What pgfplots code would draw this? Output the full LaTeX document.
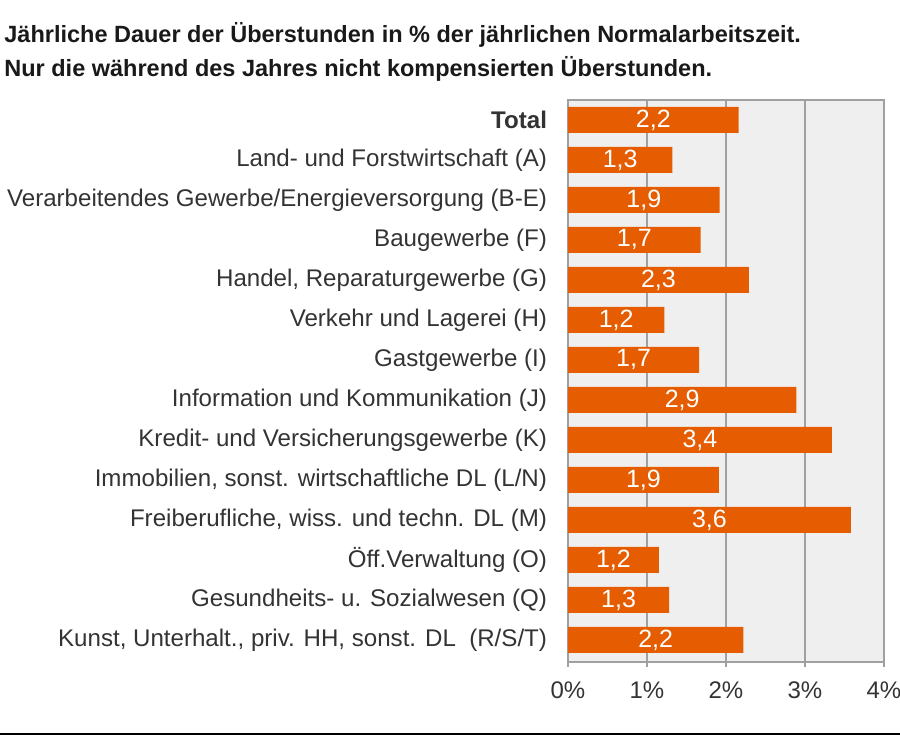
\documentclass[border=0pt]{standalone}
\usepackage{pgfplots}
\pgfplotsset{compat=1.18}
\usepackage{pgfplotstable}
\usepackage{fontspec}
\setmainfont{Liberation Sans}
\definecolor{barorange}{HTML}{E65C00}
\definecolor{bgcol}{HTML}{EFEFEF}
\definecolor{gridcol}{HTML}{A0A0A0}
\definecolor{txtcol}{HTML}{333333}

\pgfplotstableread{
y v lab
0 2.16 2,2
1 1.32 1,3
2 1.92 1,9
3 1.68 1,7
4 2.29 2,3
5 1.22 1,2
6 1.66 1,7
7 2.89 2,9
8 3.34 3,4
9 1.91 1,9
10 3.58 3,6
11 1.15 1,2
12 1.28 1,3
13 2.22 2,2
}\data

\begin{document}
\begin{tikzpicture}
\useasboundingbox (0,0) rectangle (450pt,368.5pt);
\node[anchor=base west, inner sep=0pt, text=black!90] at (2pt,347pt) {\bfseries\fontsize{11.75pt}{13pt}\selectfont Jährliche Dauer der Überstunden in \% der jährlichen Normalarbeitszeit.};
\node[anchor=base west, inner sep=0pt, text=black!90] at (2pt,330pt) {\bfseries\fontsize{11.75pt}{13pt}\selectfont Nur die während des Jahres nicht kompensierten Überstunden.};
\draw[line width=1pt, black] (0,1.5pt) -- (450pt,1.5pt);
\begin{axis}[
  at={(284pt,37.5pt)}, anchor=south west,
  scale only axis, width=158pt, height=281pt,
  xbar, bar width=13pt,
  xmin=0, xmax=4, ymin=-0.5, ymax=13.55, y dir=reverse,
  axis background/.style={fill=bgcol},
  axis line style={gridcol, line width=0.8pt},
  xmajorgrids, grid style={gridcol, line width=0.8pt},
  xtick={0,1,2,3,4}, xticklabels={0\%,1\%,2\%,3\%,4\%},
  xtick pos=bottom, tick align=outside,
  x tick style={gridcol, line width=0.8pt}, major tick length=2.5pt,
  xticklabel style={inner sep=0pt, yshift=-7pt, font=\fontsize{12pt}{14pt}\selectfont, text=txtcol},
  ytick={0,...,13},
  yticklabels={{\textbf{Total}}, Land- und Forstwirtschaft (A), Verarbeitendes Gewerbe/Energieversorgung (B-E), Baugewerbe (F), {Handel, Reparaturgewerbe (G)}, Verkehr und Lagerei (H), Gastgewerbe (I), Information und Kommunikation (J), Kredit- und Versicherungsgewerbe (K), {Immobilien, sonst. wirtschaftliche DL (L/N)}, {Freiberufliche, wiss. und techn. DL (M)}, Öff.Verwaltung (O), Gesundheits- u. Sozialwesen (Q), {Kunst, Unterhalt., priv. HH, sonst. DL\ \ (R/S/T)}},
  y tick style={draw=none},
  yticklabel style={inner sep=0pt, xshift=-7.8pt, font=\fontsize{12.05pt}{14pt}\selectfont, text=txtcol},
  /pgf/number format/assume math mode=true,
]
\addplot[fill=barorange, draw=none] table[x=v, y=y] {\data};
\addplot[only marks, mark=none, nodes near coords, point meta=explicit symbolic,
  every node near coord/.append style={anchor=center, text=white, font=\fontsize{12.5pt}{14pt}\selectfont}]
  table[x expr=\thisrow{v}/2, y=y, meta=lab] {\data};
\end{axis}
\end{tikzpicture}
\end{document}
